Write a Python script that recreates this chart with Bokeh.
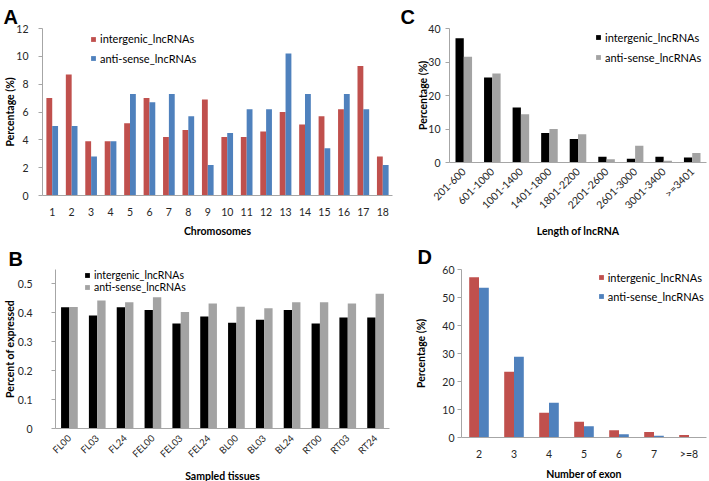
import math
from bokeh.plotting import figure
from bokeh.layouts import column, row
from bokeh.models import FactorRange, Range1d, Legend, LegendItem, FixedTicker, ColumnDataSource
from bokeh.transform import dodge
from bokeh.embed import file_html
from bokeh.resources import INLINE

# ---------------- data ----------------
chromosomes = [str(i) for i in range(1, 19)]
a_intergenic = [7.0, 8.7, 3.9, 3.9, 5.2, 7.0, 4.2, 4.7, 6.9, 4.2, 4.2, 4.6, 6.0, 5.1, 5.7, 6.2, 9.3, 2.8]
a_antisense = [5.0, 5.0, 2.8, 3.9, 7.3, 6.7, 7.3, 5.7, 2.2, 4.5, 6.2, 6.2, 10.2, 7.3, 3.4, 7.3, 6.2, 2.2]

tissues = ["FL00", "FL03", "FL24", "FEL00", "FEL03", "FEL24", "BL00", "BL03", "BL24", "RT00", "RT03", "RT24"]
b_intergenic = [0.419, 0.391, 0.419, 0.410, 0.363, 0.387, 0.366, 0.376, 0.410, 0.363, 0.384, 0.384]
b_antisense = [0.420, 0.443, 0.437, 0.454, 0.403, 0.432, 0.421, 0.416, 0.437, 0.437, 0.432, 0.466]

lengths = ["201-600", "601-1000", "1001-1400", "1401-1800", "1801-2200", "2201-2600", "2601-3000", "3001-3400", ">=3401"]
c_intergenic = [37.1, 25.4, 16.4, 8.8, 7.0, 1.7, 1.1, 1.7, 1.5]
c_antisense = [31.6, 26.6, 14.4, 10.0, 8.4, 1.0, 5.0, 0.5, 2.8]

exons = ["2", "3", "4", "5", "6", "7", ">=8"]
d_intergenic = [57.2, 23.5, 8.8, 5.6, 2.6, 2.0, 0.9]
d_antisense = [53.5, 28.8, 12.4, 4.0, 1.2, 0.6, 0.0]

series_names = ["intergenic_lncRNAs", "anti-sense_lncRNAs"]

RED, BLUE = "#C0504D", "#4F81BD"
BLACK, GRAY = "#000000", "#A3A3A3"
AXIS = "#A6A6A6"
FONT = "Lato"
ROW_H = 14


def make_panel(letter, cats, s1, s2, colors, ymax, yticks, xlabel, ylabel,
               fw, fh, mb, bar_w, rot, xl_standoff, xt_standoff,
               yl_standoff, yt_standoff, leg, letter_x, letter_standoff,
               xtick_size="10.5px", leg_size="11px"):
    left, right, top, bottom = mb
    p = figure(x_range=FactorRange(factors=cats), y_range=Range1d(0, ymax),
               frame_width=fw, frame_height=fh, output_backend="svg",
               toolbar_location=None, min_border_left=left, min_border_right=right,
               min_border_top=top, min_border_bottom=bottom, title=letter)
    src = ColumnDataSource(dict(cat=cats, a=s1, b=s2))
    r1 = p.vbar(x=dodge("cat", -bar_w / 2, range=p.x_range), top="a", width=bar_w,
                source=src, fill_color=colors[0], line_color=None)
    r2 = p.vbar(x=dodge("cat", bar_w / 2, range=p.x_range), top="b", width=bar_w,
                source=src, fill_color=colors[1], line_color=None)
    p.outline_line_color = None
    p.xgrid.grid_line_color = None
    p.ygrid.grid_line_color = None
    p.background_fill_color = "white"
    p.border_fill_color = "white"
    p.yaxis.ticker = FixedTicker(ticks=yticks)
    p.yaxis.minor_tick_line_color = None
    p.yaxis.major_tick_out = 4
    p.yaxis.major_tick_in = 0
    p.yaxis.major_tick_line_color = AXIS
    p.yaxis.axis_line_color = AXIS
    p.xaxis.axis_line_color = AXIS
    p.xaxis.major_tick_line_color = None
    p.xaxis.minor_tick_line_color = None
    p.xaxis.major_tick_out = 0
    p.xaxis.major_tick_in = 0
    for ax in (p.xaxis[0], p.yaxis[0]):
        ax.major_label_text_font = FONT
        ax.major_label_text_font_size = "10.5px"
        ax.major_label_text_color = "#262626"
        ax.axis_label_text_font = FONT
        ax.axis_label_text_font_size = "10.5px"
        ax.axis_label_text_font_style = "bold"
        ax.axis_label_text_color = "#000000"
    p.xaxis.major_label_text_font_size = xtick_size
    p.xaxis.axis_label = xlabel
    p.yaxis.axis_label = ylabel
    p.xaxis.major_label_standoff = xt_standoff
    p.xaxis.axis_label_standoff = xl_standoff
    p.yaxis.major_label_standoff = yt_standoff
    p.yaxis.axis_label_standoff = yl_standoff
    if rot:
        p.xaxis.major_label_orientation = math.pi / 4
    p.yaxis.major_label_overrides = {0: "0"}

    # panel letter as the figure title
    p.title.text_font = "Liberation Sans"
    p.title.text_font_size = "20px"
    p.title.text_font_style = "bold"
    p.title.align = "left"
    p.title.offset = letter_x - left
    p.title.standoff = letter_standoff
    p.title.text_color = "#000000"

    # legend: one single-entry legend per series, placed relative to the frame
    x_off, row_centers = leg
    for name, rend, rc in zip(series_names, (r1, r2), row_centers):
        lg = Legend(items=[LegendItem(label=name, renderers=[rend])],
                    location=(x_off, fh - rc - ROW_H / 2),
                    glyph_width=6, glyph_height=6, label_height=ROW_H,
                    label_standoff=4, spacing=0, padding=0, margin=0,
                    border_line_color=None, background_fill_alpha=0,
                    label_text_font=FONT, label_text_font_size=leg_size,
                    label_text_color="#000000")
        p.add_layout(lg, "center")
    return p


pA = make_panel("A", chromosomes, a_intergenic, a_antisense, (RED, BLUE), 12,
                [0, 2, 4, 6, 8, 10, 12], "Chromosomes", "Percentage (%)",
                350, 167, (42, 8, 27, 46), 0.3, False, 6, 12, -3, 10,
                (48, (10.5, 30.3)), 3, 1)

pC = make_panel("C", lengths, c_intergenic, c_antisense, (BLACK, GRAY), 40,
                [0, 10, 20, 30, 40], "Length of lncRNA", "Percentage (%)",
                257, 134, (49, 1, 28, 78), 0.29, True, 7, 7, -4, 5,
                (146, (9.3, 29.0)), 0, 1)

pB = make_panel("B", tissues, b_intergenic, b_antisense, (BLACK, GRAY), 0.55,
                [0, 0.1, 0.2, 0.3, 0.4, 0.5], "Sampled tissues", "Percent of expressed",
                334, 159, (48, 23, 27, 53), 0.3, True, 4, 8, -1, 19,
                (29, (5.5, 17.5)), 1, 0, xtick_size="9.5px", leg_size="10.5px")

pD = make_panel("D", exons, d_intergenic, d_antisense, (RED, BLUE), 60,
                [0, 10, 20, 30, 40, 50, 60], "Number of exon", "Percentage (%)",
                245, 168, (49, 8, 29, 42), 0.28, False, 5, 10, 12, 3,
                (136.7, (8, 27)), 5, 3)

layout = column(row(pA, pC), row(pB, pD))

with open("out.html", "w") as f:
    f.write(file_html(layout, INLINE))
